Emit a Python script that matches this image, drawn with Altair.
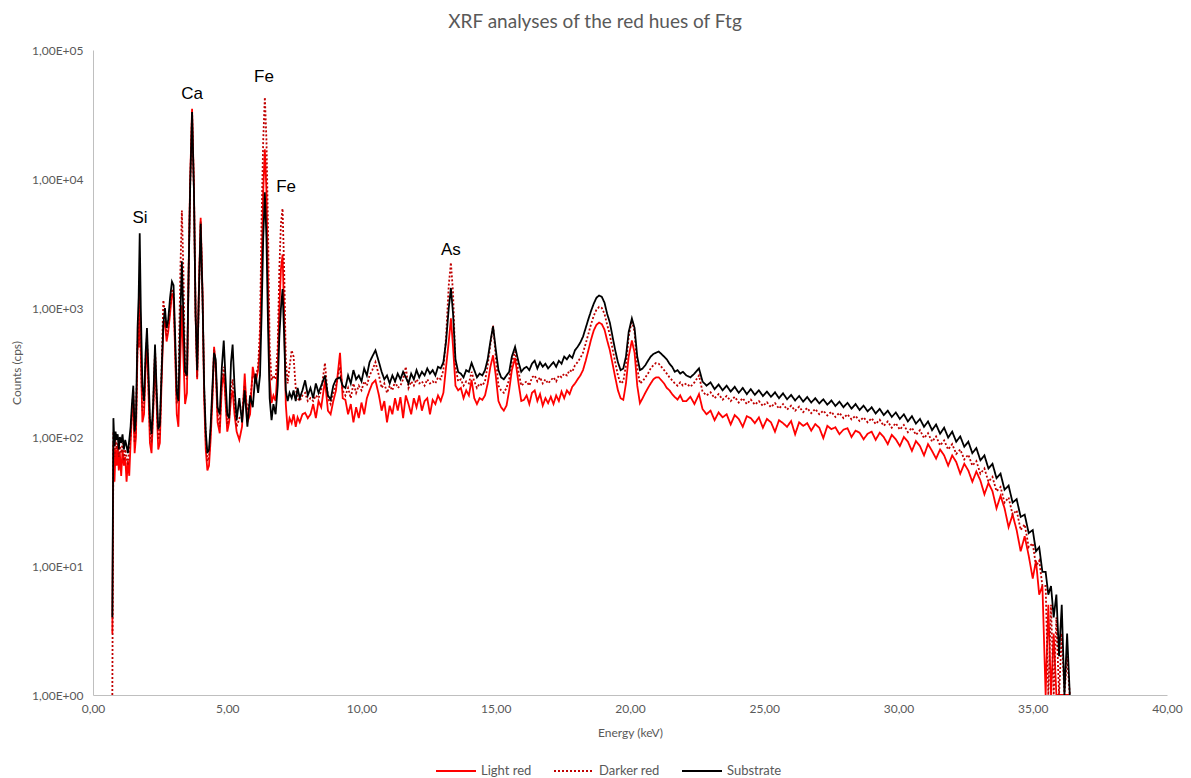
import altair as alt
import pandas as pd

SERIES = ["Light red", "Darker red", "Substrate"]
COLORS = ["#ff0000", "#c00000", "#000000"]
DASHES = [[1, 0], [2, 2], [1, 0]]
X_TICKS = [0, 5, 10, 15, 20, 25, 30, 35, 40]
Y_TICKS = [1, 10, 100, 1000, 10000, 100000]

# ---- segment A: 0.72 - 1.66 keV
E_A = [0.72, 0.76, 0.80, 0.84, 0.88, 0.92, 0.96, 1.00, 1.05, 1.10, 1.15, 1.20, 1.25, 1.30, 1.35, 1.40, 1.45, 1.50, 1.55, 1.60, 1.66]
S_A = [4, 140, 85, 110, 95, 105, 80, 100, 90, 105, 80, 95, 85, 75, 95, 120, 180, 250, 110, 140, 700]
L_A = [3, 90, 45, 80, 60, 85, 55, 75, 50, 80, 60, 70, 45, 65, 50, 90, 150, 200, 75, 100, 500]
D_A = [1, 110, 70, 95, 80, 90, 70, 85, 75, 90, 65, 80, 70, 60, 80, 100, 160, 230, 90, 120, 550]

# ---- segment B: 1.70 - 4.45 keV
E_B = [1.70, 1.74, 1.78, 1.84, 1.90, 1.96, 2.01, 2.06, 2.12, 2.18, 2.24, 2.31, 2.37, 2.43, 2.49,
       2.55, 2.62, 2.68, 2.74, 2.80, 2.87, 2.94, 3.00, 3.06, 3.12, 3.18, 3.25, 3.31, 3.37, 3.43,
       3.50, 3.56, 3.62, 3.69, 3.76, 3.82, 3.88, 3.94, 4.01, 4.08, 4.14, 4.20, 4.26, 4.32, 4.38, 4.45]
S_B = [1200, 3800, 1000, 250, 190, 450, 700, 350, 140, 105, 180, 520, 230, 115, 125,
       300, 750, 1000, 700, 800, 1200, 1600, 1500, 600, 220, 190, 800, 2300, 800, 320,
       300, 1800, 9000, 33000, 8000, 900, 330, 1200, 4500, 1200, 250, 110, 75, 80, 120, 250]
L_B = [500, 1500, 450, 130, 150, 350, 550, 250, 90, 75, 150, 450, 180, 80, 90,
       250, 700, 800, 550, 650, 900, 1300, 1200, 450, 150, 120, 400, 1050, 400, 180,
       220, 1900, 10000, 35000, 8500, 900, 280, 1300, 5000, 1300, 200, 80, 55, 60, 95, 200]
D_B = [500, 1400, 450, 160, 170, 400, 600, 280, 110, 90, 160, 480, 200, 95, 105,
       300, 1150, 900, 600, 700, 1000, 1400, 1300, 500, 180, 250, 1800, 5700, 1800, 300,
       280, 1800, 9000, 33000, 8000, 900, 290, 1200, 4700, 1200, 230, 95, 65, 70, 110, 220]

# ---- segment C: 4.51 - 8.00 keV
E_C = [4.51, 4.57, 4.64, 4.72, 4.80, 4.87, 4.93, 5.00, 5.07, 5.14, 5.20, 5.27, 5.35, 5.45, 5.55,
       5.65, 5.75, 5.85, 5.95, 6.05, 6.15, 6.22, 6.28, 6.34, 6.40, 6.46, 6.52, 6.58, 6.65, 6.72,
       6.80, 6.88, 6.94, 7.00, 7.06, 7.12, 7.18, 7.25, 7.32, 7.40, 7.47, 7.55, 7.62, 7.70, 7.80,
       7.90, 8.00]
S_C = [450, 400, 170, 150, 350, 560, 300, 150, 140, 380, 520, 250, 135, 200, 130,
       230, 120, 210, 170, 310, 220, 300, 900, 3500, 7900, 3500, 700, 200, 135, 180,
       150, 250, 600, 1000, 1400, 600, 230, 190, 220, 200, 230, 190, 240, 200, 230,
       275, 210]
L_C = [500, 350, 130, 107, 250, 310, 200, 110, 130, 200, 230, 150, 110, 95, 120,
       310, 130, 150, 350, 260, 330, 500, 2000, 8000, 17000, 8000, 1500, 280, 183, 210,
       190, 350, 1000, 2000, 2600, 900, 180, 113, 140, 128, 150, 120, 142, 130, 150,
       154, 140]
D_C = [480, 360, 150, 120, 280, 350, 220, 125, 140, 230, 280, 170, 120, 140, 150,
       250, 160, 190, 300, 290, 350, 700, 5000, 20000, 43000, 20000, 4000, 500, 275, 300,
       280, 500, 2000, 4500, 5900, 2000, 400, 260, 350, 470, 420, 240, 200, 190, 210,
       220, 190]

# ---- segment D: 8.10 - 13.15 keV
E_D = [8.10, 8.20, 8.30, 8.40, 8.50, 8.64, 8.75, 8.85, 8.95, 9.05, 9.20, 9.30, 9.40, 9.50, 9.60,
       9.70, 9.80, 9.90, 10.00, 10.10, 10.20, 10.30, 10.40, 10.52, 10.65, 10.75, 10.85, 10.95, 11.05, 11.15,
       11.25, 11.35, 11.45, 11.55, 11.65, 11.75, 11.85, 11.95, 12.05, 12.15, 12.25, 12.35, 12.45, 12.55, 12.65,
       12.75, 12.85, 12.95, 13.05, 13.15]
S_D = [240, 200, 260, 220, 250, 300, 210, 195, 250, 280, 290, 250, 240, 300, 260,
       330, 280, 300, 270, 340, 300, 380, 420, 470, 380, 320, 280, 300, 260, 300,
       270, 310, 280, 320, 290, 260, 310, 280, 330, 290, 320, 300, 340, 310, 330,
       300, 350, 340, 380, 550]
L_D = [150, 180, 140, 190, 170, 275, 160, 150, 190, 230, 450, 200, 194, 150, 180,
       130, 170, 140, 185, 150, 200, 230, 260, 275, 210, 160, 190, 130, 175, 150,
       200, 160, 204, 140, 210, 180, 150, 200, 170, 210, 160, 190, 200, 150, 194,
       180, 210, 190, 220, 350]
D_D = [200, 190, 210, 200, 230, 375, 200, 180, 220, 250, 350, 230, 210, 240, 200,
       260, 220, 250, 230, 270, 250, 300, 330, 380, 300, 240, 260, 220, 250, 230,
       270, 240, 250, 280, 350, 240, 270, 250, 280, 260, 270, 250, 280, 260, 270,
       260, 290, 280, 330, 600]

# ---- segment E1: 13.25 - 17.65 keV
E_E1 = [13.25, 13.33, 13.41, 13.50, 13.60, 13.70, 13.80, 13.90, 14.00, 14.10, 14.20, 14.30, 14.40, 14.50, 14.60,
        14.70, 14.80, 14.90, 15.00, 15.10, 15.20, 15.30, 15.40, 15.50, 15.60, 15.72, 15.85, 15.95, 16.05, 16.15,
        16.25, 16.35, 16.45, 16.55, 16.65, 16.75, 16.85, 16.95, 17.05, 17.15, 17.25, 17.35, 17.45, 17.55, 17.65]
S_E1 = [1000, 1430, 900, 400, 320, 310, 290, 330, 320, 375, 330, 290, 310, 300, 330,
        400, 550, 720, 480, 330, 290, 280, 300, 320, 420, 500, 380, 320, 340, 350,
        330, 370, 390, 340, 380, 350, 370, 340, 360, 380, 350, 390, 370, 420, 400]
L_E1 = [550, 830, 500, 250, 230, 240, 200, 230, 210, 277, 200, 180, 200, 194, 210,
        260, 350, 430, 300, 190, 170, 160, 175, 230, 330, 410, 260, 190, 194, 210,
        180, 220, 230, 190, 215, 175, 200, 183, 205, 180, 210, 190, 225, 200, 230]
D_E1 = [1500, 2250, 1300, 350, 270, 280, 250, 270, 260, 320, 270, 240, 260, 250, 270,
        360, 520, 730, 420, 250, 230, 220, 240, 280, 380, 460, 320, 250, 260, 270,
        250, 290, 300, 270, 290, 260, 280, 260, 275, 290, 270, 300, 290, 310, 300]

# ---- segment E2: 17.75 - 21.97 keV
E_E2 = [17.75, 17.85, 17.95, 18.05, 18.15, 18.25, 18.35, 18.45, 18.55, 18.65, 18.75, 18.85, 18.95, 19.05, 19.15,
        19.25, 19.35, 19.45, 19.55, 19.65, 19.75, 19.85, 19.95, 20.07, 20.17, 20.27, 20.37, 20.47, 20.57, 20.67,
        20.77, 20.87, 20.97, 21.07, 21.17, 21.27, 21.37, 21.47, 21.57, 21.67, 21.77, 21.87, 21.97]
S_E2 = [430, 410, 470, 500, 540, 600, 700, 820, 950, 1080, 1200, 1250, 1220, 1100, 900,
        770, 600, 470, 380, 330, 340, 420, 650, 830, 700, 420, 330, 340, 360, 390,
        420, 440, 450, 460, 440, 420, 400, 370, 350, 320, 330, 310, 320]
L_E2 = [215, 245, 260, 280, 300, 330, 390, 470, 570, 670, 740, 770, 750, 680, 560,
        470, 370, 290, 230, 200, 194, 260, 420, 560, 450, 250, 183, 200, 220, 240,
        260, 280, 290, 290, 275, 260, 240, 230, 215, 204, 195, 210, 190]
D_E2 = [330, 320, 360, 380, 410, 450, 530, 630, 750, 870, 970, 1020, 1000, 900, 740,
        620, 480, 380, 300, 260, 270, 360, 600, 800, 650, 340, 260, 270, 290, 310,
        340, 360, 375, 370, 350, 330, 310, 290, 275, 260, 250, 265, 250]

# ---- segment F1: 22.10 - 28.85 keV
E_F1 = [22.10, 22.25, 22.40, 22.57, 22.70, 22.85, 23.00, 23.15, 23.30, 23.45, 23.60, 23.75, 23.90, 24.05, 24.20,
        24.35, 24.50, 24.65, 24.80, 24.95, 25.10, 25.25, 25.40, 25.55, 25.70, 25.85, 26.00, 26.15, 26.30, 26.45,
        26.60, 26.75, 26.90, 27.05, 27.20, 27.35, 27.50, 27.65, 27.80, 27.95, 28.10, 28.25, 28.40, 28.55, 28.70,
        28.85]
S_F1 = [300, 290, 310, 340, 270, 250, 265, 235, 255, 230, 250, 225, 245, 220, 240,
        215, 235, 212, 230, 208, 225, 205, 222, 200, 218, 196, 212, 192, 208, 188,
        204, 185, 200, 182, 196, 178, 192, 174, 188, 170, 184, 166, 180, 162, 175,
        158]
L_F1 = [190, 205, 180, 215, 165, 150, 160, 135, 155, 142, 150, 125, 148, 138, 120,
        145, 140, 128, 142, 118, 138, 130, 110, 135, 128, 120, 133, 105, 130, 122,
        128, 112, 126, 118, 98, 122, 115, 119, 105, 114, 117, 100, 112, 108, 96,
        106]
D_F1 = [260, 245, 265, 300, 225, 210, 222, 200, 215, 195, 208, 190, 205, 185, 200,
        180, 195, 178, 190, 174, 186, 170, 183, 166, 180, 163, 175, 160, 172, 156,
        168, 153, 165, 150, 160, 147, 157, 143, 154, 140, 150, 137, 146, 133, 142,
        130]

# ---- segment F2: 29.00 - 36.38 keV
E_F2 = [29.00, 29.15, 29.30, 29.45, 29.60, 29.75, 29.90, 30.05, 30.20, 30.35, 30.50, 30.65, 30.80, 30.95, 31.10,
        31.25, 31.40, 31.55, 31.70, 31.85, 32.00, 32.15, 32.30, 32.45, 32.60, 32.75, 32.90, 33.05, 33.20, 33.35,
        33.50, 33.65, 33.80, 33.95, 34.10, 34.25, 34.40, 34.55, 34.70, 34.85, 35.00, 35.12, 35.24, 35.36, 35.48,
        35.58, 35.68, 35.78, 35.88, 35.98, 36.08, 36.18, 36.28, 36.38]
S_F2 = [170, 152, 165, 148, 160, 143, 155, 138, 150, 132, 145, 127, 138, 120, 132,
        113, 125, 106, 118, 99, 110, 92, 101, 84, 92, 75, 82, 66, 72, 57,
        62, 48, 52, 39, 42, 31, 33, 24, 25, 18, 19, 13, 14, 9, 9,
        6, 7, 4, 6, 2, 5, 1, 3, 1]
L_F2 = [110, 95, 108, 100, 88, 104, 96, 85, 100, 92, 78, 93, 85, 72, 88,
        78, 68, 80, 72, 60, 72, 64, 52, 62, 55, 45, 54, 46, 36, 44,
        38, 28, 35, 28, 20, 25, 19, 13, 17, 12, 8, 11, 6, 7, 1,
        5, 1, 3, 1, 1, 1, 1, 1, 1]
D_F2 = [140, 126, 136, 122, 132, 118, 128, 114, 124, 109, 118, 104, 113, 98, 107,
        92, 101, 86, 94, 80, 88, 74, 80, 67, 73, 60, 65, 52, 57, 45,
        49, 38, 41, 31, 34, 25, 27, 19, 21, 14, 15, 10, 11, 7, 7,
        1, 5, 1, 4, 1, 3, 1, 2, 1]

energy = E_A + E_B + E_C + E_D + E_E1 + E_E2 + E_F1 + E_F2
light = L_A + L_B + L_C + L_D + L_E1 + L_E2 + L_F1 + L_F2
darker = D_A + D_B + D_C + D_D + D_E1 + D_E2 + D_F1 + D_F2
substrate = S_A + S_B + S_C + S_D + S_E1 + S_E2 + S_F1 + S_F2
assert len(energy) == len(light) == len(darker) == len(substrate), (len(energy), len(light), len(darker), len(substrate))

# ---- peak labels
PEAK_LABELS = ["Si", "Ca", "Fe", "Fe", "As"]
PEAK_E = [1.75, 3.69, 6.37, 7.19, 13.33]
PEAK_Y = [5000, 46000, 62000, 8700, 2800]

rows = []
for name, vals in zip(SERIES, [light, darker, substrate]):
    for e, v in zip(energy, vals):
        rows.append({"energy": e, "counts": v, "series": name})
df = pd.DataFrame(rows)
ann = pd.DataFrame({"label": PEAK_LABELS, "energy": PEAK_E, "counts": PEAK_Y})

FONT = "Lato"
GRAY = "#595959"

x_enc = alt.X("energy:Q",
              scale=alt.Scale(domain=[0, 40], nice=False, zero=False),
              axis=alt.Axis(values=X_TICKS, title="Energy (keV)", labelFlush=False,
                            labelExpr="replace(format(datum.value, '.2f'), '.', ',')"))
y_enc = alt.Y("counts:Q",
              scale=alt.Scale(type="log", domain=[1, 100000], nice=False),
              axis=alt.Axis(values=Y_TICKS, title="Counts (cps)", labelFlush=False,
                            labelExpr="'1,00E+0' + format(log(datum.value) / LN10, '.0f')"))

legend = alt.Legend(title=None, orient="none", direction="horizontal", legendX=342, legendY=700,
                    symbolType="stroke", symbolSize=1600, symbolStrokeWidth=2, labelOffset=4,
                    labelFont=FONT, labelFontSize=13, labelColor=GRAY, columnPadding=18)
color_enc = alt.Color("series:N", scale=alt.Scale(domain=SERIES, range=COLORS), legend=legend)
dash_enc = alt.StrokeDash("series:N", scale=alt.Scale(domain=SERIES, range=DASHES), legend=legend)

layers = []
for name in SERIES:
    layers.append(
        alt.Chart(df).transform_filter(alt.datum.series == name)
        .mark_line(strokeWidth=1.8, clip=True, interpolate="linear")
        .encode(x=x_enc, y=y_enc, color=color_enc, strokeDash=dash_enc)
    )

labels = alt.Chart(ann).mark_text(font="Liberation Sans", fontSize=17, color="#000000").encode(
    x=alt.X("energy:Q"), y=alt.Y("counts:Q"), text="label:N")

chart = alt.layer(*layers, labels).properties(
    width=1074, height=645,
    autosize=alt.AutoSizeParams(type="none"),
    padding={"left": 85, "top": 42, "right": 16, "bottom": 82},
    title=alt.TitleParams("XRF analyses of the red hues of Ftg", font=FONT, fontSize=19,
                          fontWeight="normal", color=GRAY, offset=12, dx=-35),
).configure_view(stroke=None).configure_axis(
    grid=False, ticks=False, domainColor="#bfbfbf", domainWidth=1,
    labelFont=FONT, labelFontSize=12, labelColor=GRAY,
    titleFont=FONT, titleFontSize=12, titleColor=GRAY, titleFontWeight="normal",
).configure_axisY(labelPadding=10, titlePadding=8).configure_axisX(labelPadding=8, titlePadding=13)

chart.save("out.html", embed_options={"renderer": "svg", "actions": False})
